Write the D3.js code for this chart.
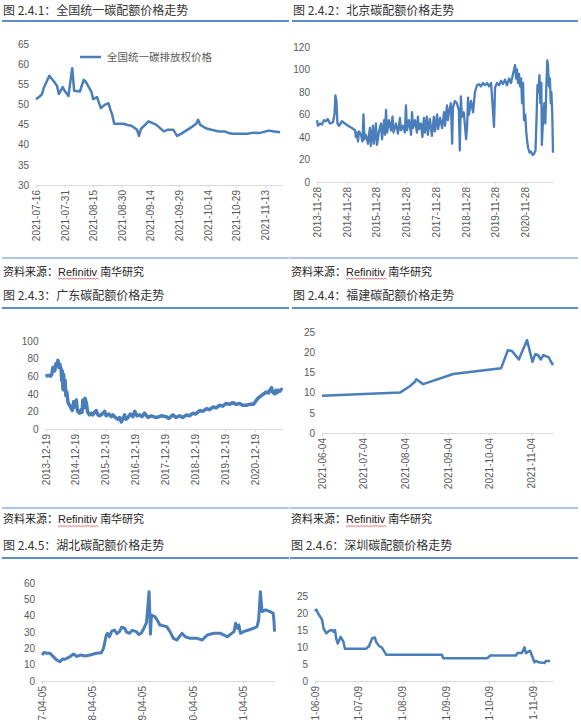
<!DOCTYPE html>
<html>
<head>
<meta charset="utf-8">
<script src="https://cdn.jsdelivr.net/npm/d3@7"></script>
<style>
  body { margin: 0; background: #fff; }
  svg { display: block; font-family: "Liberation Sans", Arial, "Noto Sans CJK SC", sans-serif; }
</style>
</head>
<body>
<svg width="581" height="720"></svg>
<script>
const svg = d3.select('svg');
const parse = d3.timeParse('%Y-%m-%d');
const fmt = d3.timeFormat('%Y-%m-%d');

// 2.4.1 national ETS
const nationalDates = ['2021-07-16','2021-07-19','2021-07-20','2021-07-23','2021-07-26','2021-07-27','2021-07-28','2021-07-30','2021-07-31','2021-08-02','2021-08-04','2021-08-05','2021-08-08','2021-08-10','2021-08-11','2021-08-14','2021-08-15','2021-08-17','2021-08-19','2021-08-21','2021-08-23','2021-08-24','2021-08-25','2021-08-26','2021-08-31','2021-09-02','2021-09-04','2021-09-05','2021-09-07','2021-09-08','2021-09-09','2021-09-13','2021-09-17','2021-09-21','2021-09-23','2021-09-26','2021-09-28','2021-09-30','2021-10-06','2021-10-08','2021-10-09','2021-10-10','2021-10-13','2021-10-16','2021-10-20','2021-10-23','2021-10-25','2021-10-27','2021-11-04','2021-11-07','2021-11-10','2021-11-11','2021-11-15','2021-11-18','2021-11-21'];
const nationalValues = [51.3,52.4,54,57.1,55.3,54.6,52.6,54.3,53.4,52.1,59,53.4,53.2,56.1,55.7,53.2,51.3,51.8,49.1,49.9,50.3,48.7,47.4,45.2,45.2,44.9,44.7,44.4,43.7,42.2,43.9,45.8,45,43.3,43.7,43.7,42.2,42.7,44.5,45.2,46.2,45,44.1,43.7,43.3,43.3,42.9,42.7,42.7,43,42.9,43,43.5,43.3,43.1];
const nationalTicks = ['2021-07-16','2021-07-31','2021-08-15','2021-08-30','2021-09-14','2021-09-29','2021-10-14','2021-10-29','2021-11-13'];
const nationalYTicks = [30,35,40,45,50,55,60,65];

// 2.4.2 Beijing
const beijingDates = ['2013-11-28','2013-12-10','2014-01-04','2014-01-28','2014-02-22','2014-03-18','2014-04-10','2014-05-05','2014-06-12','2014-07-01','2014-07-12','2014-07-25','2014-08-06','2014-08-25','2014-10-01','2014-11-06','2014-12-14','2015-01-31','2015-03-10','2015-03-22','2015-04-04','2015-04-16','2015-04-28','2015-05-22','2015-06-10','2015-06-22','2015-07-04','2015-07-22','2015-08-16','2015-09-09','2015-09-21','2015-10-16','2015-10-28','2015-11-22','2015-12-05','2015-12-30','2016-01-23','2016-02-05','2016-03-01','2016-03-13','2016-03-25','2016-04-07','2016-05-01','2016-05-25','2016-06-13','2016-06-25','2016-07-25','2016-08-19','2016-09-12','2016-09-24','2016-10-19','2016-11-12','2016-11-25','2016-12-08','2017-01-02','2017-01-27','2017-02-08','2017-02-20','2017-03-16','2017-04-09','2017-04-21','2017-05-04','2017-05-28','2017-06-15','2017-07-04','2017-07-16','2017-08-09','2017-08-21','2017-09-15','2017-10-10','2017-11-03','2017-11-16','2017-12-13','2017-12-25','2018-01-19','2018-02-12','2018-03-08','2018-03-20','2018-04-13','2018-04-25','2018-05-07','2018-05-31','2018-06-16','2018-06-25','2018-07-19','2018-08-13','2018-09-06','2018-09-18','2018-10-01','2018-10-13','2018-11-06','2018-12-04','2018-12-16','2018-12-28','2019-01-09','2019-02-03','2019-02-28','2019-03-23','2019-04-17','2019-05-11','2019-06-05','2019-06-29','2019-07-25','2019-08-19','2019-09-12','2019-10-07','2019-11-12','2019-11-25','2019-12-19','2020-01-13','2020-02-07','2020-03-02','2020-03-26','2020-04-20','2020-05-15','2020-06-08','2020-07-03','2020-07-15','2020-07-28','2020-08-09','2020-08-21','2020-09-02','2020-09-14','2020-09-28','2020-10-10','2020-10-22','2020-11-03','2020-11-15','2020-11-30','2020-12-12','2020-12-24','2021-01-05','2021-01-23','2021-02-10','2021-03-01','2021-03-18','2021-04-05','2021-04-17','2021-04-29','2021-05-11','2021-05-23','2021-06-04','2021-06-16','2021-06-22','2021-07-10','2021-07-22','2021-08-04','2021-08-16','2021-08-28','2021-09-05','2021-09-17','2021-09-29','2021-10-09','2021-10-17','2021-10-28','2021-11-06'];
const beijingValues = [55,50,52,51,55,54,56,52,53,60,77,72,52,50,54,52,50,48,46,40,44,36,45,42,36,60,38,42,34,48,32,50,34,52,33,45,52,38,55,42,64,44,55,46,58,44,52,43,57,46,50,44,68,46,55,42,62,48,55,44,58,47,52,40,57,44,58,42,56,41,58,45,60,47,57,48,62,50,68,55,62,70,34,66,72,70,64,28,76,58,62,38,48,75,60,72,62,80,86,87,85,88,86,88,85,88,49,84,88,86,90,87,91,86,92,88,96,100,104,92,100,88,96,85,92,70,88,55,60,45,36,30,26,27,24,25,28,55,86,80,95,70,88,33,60,70,52,85,108,104,85,92,70,80,60,26];
const beijingTicks = ['2013-11-28','2014-11-28','2015-11-28','2016-11-28','2017-11-28','2018-11-28','2019-11-28','2020-11-28'];
const beijingYTicks = [0,20,40,60,80,100,120];

// 2.4.3 Guangdong
const guangdongDates = ['2013-12-19','2014-01-20','2014-02-20','2014-03-05','2014-03-20','2014-04-10','2014-04-25','2014-05-10','2014-05-20','2014-06-01','2014-06-10','2014-06-28','2014-07-05','2014-07-12','2014-07-20','2014-07-28','2014-08-05','2014-08-15','2014-08-25','2014-09-05','2014-09-20','2014-10-08','2014-10-30','2014-11-10','2014-11-28','2014-12-10','2014-12-30','2015-01-10','2015-01-17','2015-02-10','2015-02-27','2015-03-10','2015-03-20','2015-04-05','2015-04-15','2015-04-30','2015-05-10','2015-05-18','2015-06-10','2015-07-01','2015-07-19','2015-08-10','2015-08-30','2015-09-20','2015-10-10','2015-11-10','2015-12-10','2015-12-30','2016-02-01','2016-03-01','2016-03-20','2016-04-20','2016-05-21','2016-06-10','2016-07-01','2016-07-20','2016-08-10','2016-08-25','2016-09-19','2016-10-20','2016-11-20','2016-12-12','2017-01-10','2017-02-10','2017-03-10','2017-04-11','2017-05-22','2017-07-01','2017-09-01','2017-11-01','2018-01-01','2018-02-01','2018-03-22','2018-05-01','2018-06-12','2018-07-20','2018-09-03','2018-10-10','2018-11-22','2018-12-20','2019-02-13','2019-03-20','2019-05-06','2019-06-10','2019-07-26','2019-09-01','2019-10-14','2019-11-20','2020-01-01','2020-02-10','2020-03-23','2020-05-01','2020-06-14','2020-07-20','2020-09-02','2020-10-10','2020-11-22','2020-12-15','2021-01-05','2021-02-05','2021-03-05','2021-04-05','2021-05-06','2021-06-01','2021-06-16','2021-07-08','2021-07-20','2021-08-17','2021-08-30','2021-09-10','2021-09-26','2021-10-15','2021-11-05','2021-11-12'];
const guangdongValues = [60,61,60,62,70,66,74,72,78,70,74,68,55,66,45,62,44,55,38,42,30,27,23,21,31,25,33,22,20,18,22,19,33,24,35,30,24,19,16,18,16,19,21,16,15,17,20,15,17,14,16,13,11,13,8,12,16,11,13,17,14,20,15,16,14,18,13,15,13,15,14,12,16,13,15,13,16,15,18,17,21,20,23,22,25,24,27,26,29,28,30,28,29,27,27,28,28,30,33,36,38,40,42,41,44,47,42,40,44,41,44,43,45,44];
const guangdongTicks = ['2013-12-19','2014-12-19','2015-12-19','2016-12-19','2017-12-19','2018-12-19','2019-12-19','2020-12-19'];
const guangdongYTicks = [0,20,40,60,80,100];

// 2.4.4 Fujian
const fujianDates = ['2021-06-04','2021-07-31','2021-08-07','2021-08-11','2021-08-12','2021-08-17','2021-09-08','2021-10-13','2021-10-18','2021-10-21','2021-10-26','2021-11-01','2021-11-05','2021-11-07','2021-11-09','2021-11-11','2021-11-13','2021-11-17','2021-11-18','2021-11-20'];
const fujianValues = [9.2,10,11.5,12.7,13.3,12.1,14.6,16,20.5,20.3,18.2,23,17.6,19.5,19.3,18.2,19.3,18.7,18,16.8];
const fujianTicks = ['2021-06-04','2021-07-04','2021-08-04','2021-09-04','2021-10-04','2021-11-04'];
const fujianYTicks = [0,5,10,15,20,25];

// 2.4.5 Hubei
const hubeiDates = ['2017-04-05','2017-04-20','2017-05-08','2017-06-02','2017-06-26','2017-07-20','2017-08-14','2017-09-01','2017-09-20','2017-10-26','2017-11-20','2017-12-15','2018-01-08','2018-02-14','2018-03-20','2018-04-15','2018-05-05','2018-06-09','2018-06-26','2018-07-16','2018-07-26','2018-08-08','2018-08-25','2018-09-14','2018-10-01','2018-10-20','2018-11-05','2018-11-26','2018-12-10','2019-01-01','2019-01-20','2019-02-20','2019-03-10','2019-03-26','2019-04-09','2019-05-04','2019-05-23','2019-06-02','2019-06-09','2019-07-04','2019-07-28','2019-08-09','2019-09-28','2019-10-22','2019-11-16','2019-12-11','2020-01-17','2020-02-10','2020-03-17','2020-05-07','2020-06-12','2020-07-19','2020-09-05','2020-10-24','2020-12-11','2021-01-29','2021-02-10','2021-02-23','2021-03-05','2021-03-17','2021-04-09','2021-05-15','2021-06-21','2021-07-15','2021-07-27','2021-08-09','2021-08-21','2021-09-15','2021-10-21','2021-11-10','2021-11-15','2021-11-20'];
const hubeiValues = [15.9,17.5,17,17,14.9,12.9,11.8,13.5,13.3,14.9,16.5,15,15.9,15.3,15.9,16.5,17,17.3,20,28.2,29.2,27.1,30.5,31.2,29,30.2,33,32.3,30,29.2,31,30.2,28.5,29.2,31.2,35.7,54.7,28.6,40.4,39.4,36.3,34.3,33.3,30.2,26.1,25.1,29.2,27.1,26.1,26.1,25.1,28.2,29.2,29.2,27.1,30.2,35.3,32.3,34.3,29.2,30.2,31.2,32.3,33.3,37.3,54.7,42.4,43.5,42.4,41.4,37.3,30.2];
const hubeiTicks = ['2017-04-05','2018-04-05','2019-04-05','2020-04-05','2021-04-05'];
const hubeiYTicks = [0,10,20,30,40,50,60];

// 2.4.6 Shenzhen
const shenzhenDates = ['2021-06-09','2021-06-10','2021-06-11','2021-06-14','2021-06-15','2021-06-17','2021-06-19','2021-06-21','2021-06-22','2021-06-23','2021-06-24','2021-06-25','2021-06-27','2021-06-29','2021-06-30','2021-07-15','2021-07-17','2021-07-19','2021-07-21','2021-07-22','2021-07-24','2021-07-26','2021-07-28','2021-07-29','2021-09-06','2021-09-07','2021-10-08','2021-10-10','2021-10-28','2021-10-29','2021-11-01','2021-11-02','2021-11-03','2021-11-04','2021-11-06','2021-11-07','2021-11-08','2021-11-10','2021-11-11','2021-11-13','2021-11-17','2021-11-18','2021-11-21'];
const shenzhenValues = [20.5,21,20,18,15.4,14,14.8,15,14.5,15,12.3,11,13,11.5,9.5,9.5,10.3,12.5,12.8,11.4,10.3,9.8,8.4,7.7,7.7,6.7,6.7,7.5,7.5,8.2,8.2,8.9,9.9,8.2,8.7,8.9,7.7,5.5,5.9,5.5,5.3,5.9,5.9];
const shenzhenTicks = ['2021-06-09','2021-07-09','2021-08-09','2021-09-09','2021-10-09','2021-11-09'];
const shenzhenYTicks = [0,5,10,15,20,25];

const lineColor = '#4a7ebb';
const ruleColor = '#5b8dcf';
const textColor = '#595959';

const panels = [
  { title: '图 2.4.1：全国统一碳配额价格走势', left: 3, right: 289, titleY: 14.5, ruleY: 21,
    dates: nationalDates, values: nationalValues, ticks: nationalTicks, yTicks: nationalYTicks,
    end: '2021-11-22', x0: 36, x1: 282, yTop: 44, yBottom: 185, width: 2.5,
    legend: '全国统一碳排放权价格' },
  { title: '图 2.4.2：北京碳配额价格走势', left: 293, right: 578, titleY: 14.5, ruleY: 21,
    dates: beijingDates, values: beijingValues, ticks: beijingTicks, yTicks: beijingYTicks,
    end: '2021-11-06', x0: 317, x1: 553, yTop: 47, yBottom: 182, width: 2.3 },
  { title: '图 2.4.3：广东碳配额价格走势', left: 3, right: 289, titleY: 299.5, ruleY: 308,
    dates: guangdongDates, values: guangdongValues, ticks: guangdongTicks, yTicks: guangdongYTicks,
    end: '2021-11-12', x0: 45.5, x1: 282, yTop: 341, yBottom: 429, width: 3.5 },
  { title: '图 2.4.4：福建碳配额价格走势', left: 293, right: 578, titleY: 299.5, ruleY: 308,
    dates: fujianDates, values: fujianValues, ticks: fujianTicks, yTicks: fujianYTicks,
    end: '2021-11-20', x0: 322, x1: 553, yTop: 332, yBottom: 433, width: 2.5 },
  { title: '图 2.4.5：湖北碳配额价格走势', left: 3, right: 289, titleY: 549.5, ruleY: 558,
    dates: hubeiDates, values: hubeiValues, ticks: hubeiTicks, yTicks: hubeiYTicks,
    end: '2021-11-23', x0: 42, x1: 275, yTop: 583, yBottom: 681, width: 3 },
  { title: '图 2.4.6：深圳碳配额价格走势', left: 291, right: 578, titleY: 549.5, ruleY: 558,
    dates: shenzhenDates, values: shenzhenValues, ticks: shenzhenTicks, yTicks: shenzhenYTicks,
    end: '2021-11-23', x0: 315, x1: 553, yTop: 596, yBottom: 681, width: 2.5 }
];

const sources = [
  { left: 3, right: 289, ruleY: 258, textY: 275.5 },
  { left: 291, right: 578, ruleY: 258, textY: 275.5 },
  { left: 3, right: 289, ruleY: 508, textY: 523 },
  { left: 291, right: 578, ruleY: 508, textY: 523 }
];

function drawPanel(p) {
  const g = svg.append('g');

  g.append('text')
    .attr('x', p.left)
    .attr('y', p.titleY)
    .attr('fill', '#333')
    .style('font-size', '12px')
    .style('font-family', '"Noto Sans CJK SC", sans-serif')
    .text(p.title);

  g.append('line')
    .attr('x1', p.left - 1).attr('x2', p.right)
    .attr('y1', p.ruleY).attr('y2', p.ruleY)
    .attr('stroke', ruleColor).attr('stroke-width', 2);

  const x = d3.scaleTime()
    .domain([parse(p.dates[0]), parse(p.end)])
    .range([p.x0, p.x1]);
  const y = d3.scaleLinear()
    .domain(d3.extent(p.yTicks))
    .range([p.yBottom, p.yTop]);

  // y labels only, no axis line
  const gy = g.append('g')
    .attr('transform', `translate(${p.x0},0)`)
    .call(d3.axisLeft(y).tickValues(p.yTicks).tickSize(0).tickPadding(7));
  gy.select('.domain').remove();
  gy.selectAll('text').attr('fill', textColor).style('font-size', '10px').style('font-family', '"Liberation Sans", Arial, sans-serif');

  const gx = g.append('g')
    .attr('transform', `translate(0,${p.yBottom})`)
    .call(d3.axisBottom(x)
      .tickValues(p.ticks.map(parse))
      .tickFormat(fmt)
      .tickSize(3)
      .tickSizeOuter(0));
  gx.select('.domain').attr('stroke', '#d9d9d9');
  gx.selectAll('.tick line').attr('stroke', '#d9d9d9');
  gx.selectAll('text')
    .attr('transform', 'rotate(-90)')
    .attr('x', -5)
    .attr('y', 0)
    .attr('dy', '0.35em')
    .attr('fill', textColor)
    .style('text-anchor', 'end')
    .style('font-size', '10px')
    .style('font-family', '"Liberation Sans", Arial, sans-serif');

  const pts = p.dates.map((d, i) => [parse(d), p.values[i]]);
  const line = d3.line().x(d => x(d[0])).y(d => y(d[1]));
  g.append('path')
    .attr('d', line(pts))
    .attr('fill', 'none')
    .attr('stroke', lineColor)
    .attr('stroke-width', p.width)
    .attr('stroke-linejoin', 'round');

  if (p.legend) {
    const ly = p.yTop + 13;
    g.append('line')
      .attr('x1', 80).attr('x2', 101)
      .attr('y1', ly).attr('y2', ly)
      .attr('stroke', lineColor).attr('stroke-width', 2.5);
    g.append('text')
      .attr('x', 107).attr('y', ly + 4)
      .attr('fill', textColor)
      .style('font-size', '10.5px')
      .style('font-family', '"Noto Sans CJK SC", sans-serif')
      .text(p.legend);
  }
}

function drawSource(s) {
  svg.append('line')
    .attr('x1', s.left - 1).attr('x2', s.right)
    .attr('y1', s.ruleY).attr('y2', s.ruleY)
    .attr('stroke', ruleColor).attr('stroke-width', 1);
  const t = svg.append('text')
    .attr('x', s.left).attr('y', s.textY)
    .attr('fill', '#222')
    .style('font-size', '11px')
    .style('font-family', '"Noto Sans CJK SC", sans-serif');
  t.append('tspan').text('资料来源：');
  const ref = t.append('tspan').style('font-family', '"Liberation Sans", Arial, sans-serif').text('Refinitiv');
  t.append('tspan').attr('dx', 3).text('南华研究');
  // red spell-check squiggle under Refinitiv
  const node = ref.node();
  const sx = node.getStartPositionOfChar(0).x;
  const ex = sx + node.getComputedTextLength();
  const wy = s.textY + 2.5;
  let d = `M${sx},${wy}`;
  for (let xx = sx, k = 0; xx < ex; xx += 1.5, k++) d += `L${xx + 1.5},${wy + (k % 2 ? 0 : 1.2)}`;
  svg.append('path').attr('d', d).attr('fill', 'none').attr('stroke', '#e03030').attr('stroke-width', 0.7);
}

panels.forEach(drawPanel);
sources.forEach(drawSource);
</script>
</body>
</html>
